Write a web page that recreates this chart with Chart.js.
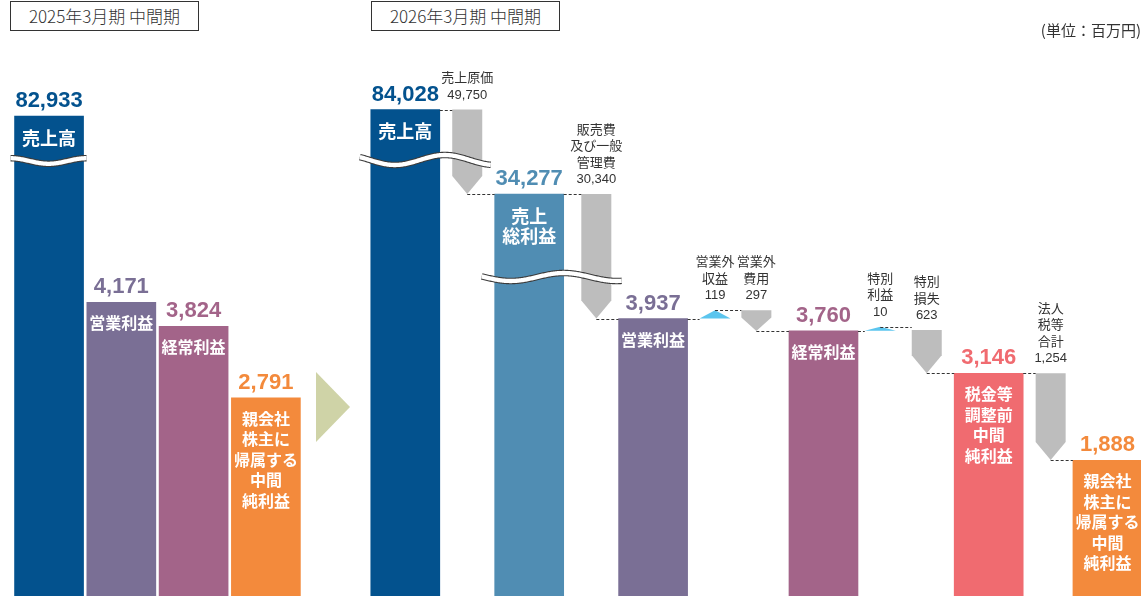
<!DOCTYPE html>
<html lang="ja">
<head>
<meta charset="utf-8">
<title>連結損益</title>
<script src="https://cdn.jsdelivr.net/npm/chart.js@4.4.1/dist/chart.umd.min.js"></script>
<style>
  html, body { margin: 0; padding: 0; background: #fff; }
  #wrap { position: relative; width: 1141px; height: 596px; overflow: hidden; }
  #chart { display: block; }
  .period { position: absolute; top: 1px; width: 189px; height: 30px; box-sizing: border-box; border: 1px solid #333; background: #fff;
            color: #333; font: 300 17px "Noto Sans CJK JP", sans-serif; text-align: center; line-height: 28px; }
  #unit { position: absolute; right: 0; top: 19px; color: #333; font: 15px "Noto Sans CJK JP", sans-serif; }
</style>
</head>
<body>
<div id="wrap">
  <canvas id="chart" width="1141" height="596"></canvas>
  <div class="period" id="p0" style="left:10px"></div>
  <div class="period" id="p1" style="left:371px"></div>
  <div id="unit"></div>
</div>
<script>
// データ
const periods = ['2025年3月期 中間期', '2026年3月期 中間期'];
const unitLabel = '(単位：百万円)';

const prevItems = ['売上高', '営業利益', '経常利益', '親会社株主に帰属する中間純利益'];
const prevValues = [82933, 4171, 3824, 2791];
const prevText = ['売上高', '営業利益', '経常利益', '親会社\n株主に\n帰属する\n中間\n純利益'];

const nowItems = ['売上高', '売上原価', '売上総利益', '販売費及び一般管理費', '営業利益', '営業外収益', '営業外費用',
  '経常利益', '特別利益', '特別損失', '税金等調整前中間純利益', '法人税等合計', '親会社株主に帰属する中間純利益'];
const nowKinds = ['total', 'down', 'total', 'down', 'total', 'up', 'down', 'total', 'up', 'down', 'total', 'down', 'total'];
const nowValues = [84028, 49750, 34277, 30340, 3937, 119, 297, 3760, 10, 623, 3146, 1254, 1888];
const nowText = ['売上高', '売上原価', '売上\n総利益', '販売費\n及び一般\n管理費', '営業利益', '営業外\n収益', '営業外\n費用',
  '経常利益', '特別\n利益', '特別\n損失', '税金等\n調整前\n中間\n純利益', '法人\n税等\n合計', '親会社\n株主に\n帰属する\n中間\n純利益'];

// レイアウト (カテゴリ軸の列番号)
const columnCount = 221;
const prevCols = [9, 23, 37, 51];
const arrowCol = 64;
const nowCols = [78, 90, 102, 115, 126, 138, 146, 159, 170, 179, 191, 203, 214];

// 縦軸の省略 (値 → 下端からの高さ px)
const plotHeight = 596;
const yMin = -72, yMax = 100000;
const axisBreaks = [[-72, 0], [5000, 351], [34277, 402], [82933, 480], [84028, 486.5], [100000, 596]];

// 色
const prevColors = ['#03528e', '#7a6f95', '#a36489', '#f38a3c'];
const nowColors = ['#03528e', null, '#508db3', null, '#7a6f95', null, null, '#a36489', null, null, '#f06b70', null, '#f38a3c'];
const downColor = '#bdbdbd', upColor = '#5bc5ee', nextColor = '#cfd3a7';
const NUM_FONT = '"Liberation Sans", Arial, sans-serif';
const JP_FONT = '"Noto Sans CJK JP", sans-serif';
const SMALL_FONT = '"Liberation Sans", "Noto Sans CJK JP", sans-serif';

document.getElementById('p0').textContent = periods[0];
document.getElementById('p1').textContent = periods[1];
document.getElementById('unit').textContent = unitLabel;

// 省略付きの縦軸
class BrokenScale extends Chart.LinearScale {
  getPixelForValue(value) {
    const b = axisBreaks;
    let h = b[b.length - 1][1];
    for (let i = 1; i < b.length; i++) {
      if (value <= b[i][0]) {
        const [v0, h0] = b[i - 1], [v1, h1] = b[i];
        h = h0 + (value - v0) / (v1 - v0) * (h1 - h0);
        break;
      }
    }
    return this.getPixelForDecimal(h / plotHeight);
  }
}
BrokenScale.id = 'broken';
BrokenScale.defaults = Chart.LinearScale.defaults;
Chart.register(BrokenScale);

// データ配列を列に並べる
const columns = Array(columnCount).fill('');
prevCols.forEach((c, i) => columns[c] = '2025 ' + prevItems[i]);
nowCols.forEach((c, i) => columns[c] = '2026 ' + nowItems[i]);

const blank = () => Array(columnCount).fill(null);
const prevData = blank(), totalData = blank(), downData = blank(), upData = blank();
const colColor = {};
prevCols.forEach((c, i) => { prevData[c] = prevValues[i]; colColor[c] = prevColors[i]; });

const levels = [];
let level = 0;
nowKinds.forEach((k, i) => {
  const c = nowCols[i], v = nowValues[i];
  if (k === 'total') { totalData[c] = v; level = v; colColor[c] = nowColors[i]; }
  else if (k === 'down') { downData[c] = [level - v, level]; level -= v; }
  else { upData[c] = [level, level + v]; level += v; }
  levels.push(level);
});
const kindMeta = { total: 1, down: 2, up: 3 };

const waves = [
  { cols: [prevCols[0], prevCols[0]], metas: [0, 0], y: 161, amp: 2.8, period: 76, dip: 38, padL: 4, padR: 3 },
  { cols: [nowCols[0], nowCols[1]], metas: [1, 2], y: 160, amp: 5, period: 100, dip: 35, padL: 11, padR: 9 },
  { cols: [nowCols[2], nowCols[3]], metas: [1, 2], y: 277, amp: 4, period: 106, dip: 29, padL: 13, padR: 11 },
];

const fmt = v => v.toLocaleString('en-US');

const decor = {
  id: 'decor',
  beforeDatasetDraw(chart, args) {
    const ds = chart.data.datasets[args.index];
    if (!ds.shape) return;
    const ctx = chart.ctx, y = chart.scales.y;
    ctx.save();
    ctx.fillStyle = ds.shape === 'down' ? downColor : upColor;
    args.meta.data.forEach((el, i) => {
      const r = ds.data[i];
      if (!r) return;
      const l = el.x - el.width / 2, rt = el.x + el.width / 2;
      ctx.beginPath();
      if (ds.shape === 'down') {
        const top = y.getPixelForValue(r[1]), tip = y.getPixelForValue(r[0]);
        const head = Math.min(18, (tip - top) * 0.65);
        ctx.moveTo(l, top); ctx.lineTo(rt, top); ctx.lineTo(rt, tip - head);
        ctx.lineTo(el.x, tip); ctx.lineTo(l, tip - head);
      } else {
        const base = y.getPixelForValue(r[0]);
        const apex = Math.min(y.getPixelForValue(r[1]), base - 4);
        ctx.moveTo(l, base); ctx.lineTo(el.x, apex); ctx.lineTo(rt, base);
      }
      ctx.closePath();
      ctx.fill();
    });
    ctx.restore();
    return false;
  },
  afterDatasetsDraw(chart) {
    const ctx = chart.ctx, y = chart.scales.y, x = chart.scales.x, area = chart.chartArea;
    const stepEl = i => chart.getDatasetMeta(kindMeta[nowKinds[i]]).data[nowCols[i]];
    const stepTop = i => {
      const k = nowKinds[i];
      if (k === 'total') return y.getPixelForValue(nowValues[i]);
      if (k === 'down') return y.getPixelForValue(levels[i] + nowValues[i]);
      const base = y.getPixelForValue(levels[i] - nowValues[i]);
      return Math.min(y.getPixelForValue(levels[i]), base - 4);
    };
    ctx.save();

    // 点線
    ctx.strokeStyle = '#333';
    ctx.lineWidth = 1;
    ctx.setLineDash([3, 2]);
    for (let i = 0; i < nowKinds.length - 1; i++) {
      const a = stepEl(i), b = stepEl(i + 1);
      let yy = y.getPixelForValue(levels[i]);
      if (nowKinds[i] === 'up') yy = stepTop(i);
      const x1 = nowKinds[i] === 'total' ? a.x + a.width / 2 : a.x;
      const x2 = b.x - b.width / 2;
      yy = Math.round(yy) + 0.5;
      ctx.beginPath(); ctx.moveTo(x1, yy); ctx.lineTo(x2, yy); ctx.stroke();
    }
    ctx.setLineDash([]);

    // 省略の波線
    waves.forEach(w => {
      const a = chart.getDatasetMeta(w.metas[0]).data[w.cols[0]];
      const b = chart.getDatasetMeta(w.metas[1]).data[w.cols[1]];
      const x0 = a.x - a.width / 2 - w.padL, x1 = b.x + b.width / 2 + w.padR;
      const path = new Path2D();
      for (let px = x0; px <= x1 + 0.01; px += 1) {
        const py = area.top + w.y + w.amp * Math.cos(2 * Math.PI * (px - x0 - w.dip) / w.period);
        px === x0 ? path.moveTo(px, py) : path.lineTo(px, py);
      }
      ctx.lineCap = 'butt';
      ctx.strokeStyle = '#3c3c3c'; ctx.lineWidth = 6.5; ctx.stroke(path);
      ctx.strokeStyle = '#fff'; ctx.lineWidth = 4.3; ctx.stroke(path);
    });

    // 期間の矢印
    const ax = x.getPixelForValue(arrowCol), ay = area.top + 407;
    ctx.fillStyle = nextColor;
    ctx.beginPath();
    ctx.moveTo(ax - 17, ay - 35); ctx.lineTo(ax + 17, ay); ctx.lineTo(ax - 17, ay + 35);
    ctx.closePath(); ctx.fill();

    // 棒の数値と項目名
    const drawTotal = (el, value, text, color) => {
      const top = y.getPixelForValue(value);
      ctx.textAlign = 'center';
      ctx.textBaseline = 'alphabetic';
      ctx.fillStyle = color;
      ctx.font = 'bold 22px ' + NUM_FONT;
      ctx.fillText(fmt(value), el.x, top - 9);
      const big = text === '売上高' || text === '売上\n総利益';
      ctx.font = 'bold ' + (big ? 18 : 16) + 'px ' + JP_FONT;
      ctx.fillStyle = '#fff';
      ctx.textBaseline = 'middle';
      text.split('\n').forEach((t, j) => ctx.fillText(t, el.x, top + (big ? 22 : 21) + j * (big ? 20 : 20.5)));
    };
    prevCols.forEach((c, i) => drawTotal(chart.getDatasetMeta(0).data[c], prevValues[i], prevText[i], prevColors[i]));
    nowKinds.forEach((k, i) => {
      const el = stepEl(i);
      if (k === 'total') { drawTotal(el, nowValues[i], nowText[i], nowColors[i]); return; }
      const lines = nowText[i].split('\n').concat(fmt(nowValues[i]));
      const base = stepTop(i) - 11;
      ctx.font = '13px ' + SMALL_FONT;
      ctx.fillStyle = '#333';
      ctx.textAlign = 'center';
      ctx.textBaseline = 'alphabetic';
      lines.forEach((t, j) => ctx.fillText(t, el.x, base - (lines.length - 1 - j) * 16.5));
    });
    ctx.restore();
  }
};

const colorOf = c => colColor[c.dataIndex] || '#000';

new Chart(document.getElementById('chart'), {
  type: 'bar',
  data: {
    labels: columns,
    datasets: [
      { data: prevData, backgroundColor: colorOf, barThickness: 69, grouped: false, base: yMin },
      { data: totalData, backgroundColor: colorOf, barThickness: 69, grouped: false, base: yMin },
      { data: downData, backgroundColor: downColor, barThickness: 30, grouped: false, shape: 'down' },
      { data: upData, backgroundColor: upColor, barThickness: 31, grouped: false, shape: 'up' },
    ],
  },
  options: {
    responsive: false, animation: false, events: [],
    layout: { padding: 0 },
    plugins: { legend: { display: false }, tooltip: { enabled: false } },
    scales: {
      x: { type: 'category', offset: true, display: false },
      y: { type: 'broken', min: yMin, max: yMax, display: false },
    },
  },
  plugins: [decor],
});
</script>
</body>
</html>
